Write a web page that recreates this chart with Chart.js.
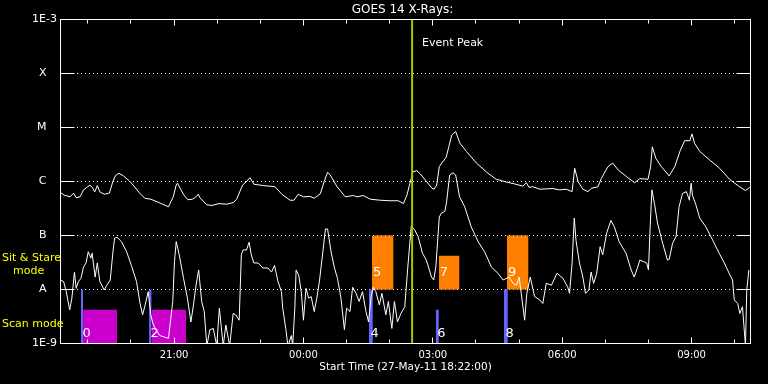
<!DOCTYPE html>
<html>
<head>
<meta charset="utf-8">
<script src="https://cdn.jsdelivr.net/npm/chart.js@4"></script>
<style>
  html, body { margin: 0; padding: 0; background: #000; }
</style>
</head>
<body>
<canvas id="goes" width="768" height="384"></canvas>
<script>
// GOES 14 X-ray flux (W/m^2). Times are hours after 00:00 on 27-May-11, so 26.5 = 02:30 next day.
const startHour = 18 + 22 / 60;
const endHour = startHour + 16;
const peakHour = 26.52;

const yTickValues = [1e-9, 1e-8, 1e-7, 1e-6, 1e-5, 1e-4, 1e-3];
const yTickLabels = ['1E-9', 'A', 'B', 'C', 'M', 'X', '1E-3'];
const xTickHours = [19, 20, 21, 22, 23, 24, 25, 26, 27, 28, 29, 30, 31, 32, 33, 34];

// long channel (1-8 A)
const longTime = [
  18.36, 18.45, 18.59, 18.67, 18.73, 18.82, 18.90, 18.97, 19.05, 19.11,
  19.16, 19.22, 19.28, 19.38, 19.50, 19.58, 19.64, 19.72, 19.82, 19.95,
  20.05, 20.21, 20.32, 20.46, 20.61, 20.87, 20.98, 21.05, 21.08, 21.14,
  21.23, 21.32, 21.43, 21.51, 21.56, 21.60, 21.76, 21.88, 22.04, 22.22,
  22.38, 22.45, 22.59, 22.69, 22.76, 22.85, 23.07, 23.34, 23.50, 23.69,
  23.78, 23.88, 24.00, 24.15, 24.25, 24.39, 24.48, 24.56, 24.62, 24.78,
  24.97, 25.16, 25.24, 25.39, 25.55, 25.78, 26.01, 26.20, 26.32, 26.40,
  26.47, 26.54, 26.63, 26.71, 26.86, 26.98, 27.03, 27.09, 27.15, 27.21,
  27.31, 27.38, 27.44, 27.53, 27.63, 27.78, 28.01, 28.28, 28.47, 28.70,
  28.90, 29.09, 29.17, 29.23, 29.32, 29.48, 29.78, 29.94, 30.09, 30.23,
  30.29, 30.37, 30.48, 30.60, 30.68, 30.83, 30.91, 31.06, 31.17, 31.30,
  31.49, 31.68, 31.80, 31.99, 32.05, 32.09, 32.17, 32.30, 32.48, 32.61,
  32.74, 32.84, 32.96, 33.01, 33.07, 33.19, 33.42, 33.65, 33.88, 34.11,
  34.25, 34.35
];
const longFlux = [
  6.3e-7, 5.6e-7, 5.2e-7, 6.1e-7, 5.0e-7, 5.2e-7, 7.0e-7, 7.7e-7, 8.6e-7, 7.6e-7,
  6.4e-7, 8.4e-7, 6.4e-7, 5.8e-7, 6.1e-7, 9.9e-7, 1.28e-6, 1.42e-6, 1.28e-6, 1.05e-6,
  8.6e-7, 6.0e-7, 4.9e-7, 4.7e-7, 4.2e-7, 3.4e-7, 5.2e-7, 8.6e-7, 9.3e-7, 7.5e-7,
  5.6e-7, 4.6e-7, 4.7e-7, 5.2e-7, 5.8e-7, 5.0e-7, 3.7e-7, 3.6e-7, 3.9e-7, 3.8e-7,
  4.1e-7, 4.7e-7, 8.6e-7, 1.02e-6, 1.18e-6, 8.9e-7, 8.4e-7, 8.0e-7, 5.8e-7, 4.5e-7,
  4.5e-7, 5.8e-7, 5.2e-7, 5.3e-7, 4.9e-7, 5.9e-7, 9.9e-7, 1.48e-6, 1.32e-6, 8.0e-7,
  5.2e-7, 5.5e-7, 5.2e-7, 5.5e-7, 4.7e-7, 4.5e-7, 4.4e-7, 4.4e-7, 3.9e-7, 5.6e-7,
  9.3e-7, 1.52e-6, 1.59e-6, 1.38e-6, 9.9e-7, 7.5e-7, 7.2e-7, 8.6e-7, 1.88e-6, 2.2e-6,
  2.8e-6, 4.7e-6, 7.3e-6, 8.4e-6, 5.1e-6, 3.6e-6, 2.2e-6, 1.42e-6, 1.1e-6, 9.8e-7,
  9.0e-7, 8.2e-7, 9.5e-7, 7.8e-7, 8.0e-7, 7.2e-7, 7.4e-7, 7.0e-7, 7.2e-7, 6.5e-7,
  1.76e-6, 9.9e-7, 7.2e-7, 6.5e-7, 7.5e-7, 8.0e-7, 1.15e-6, 1.88e-6, 2.2e-6, 1.63e-6,
  1.23e-6, 9.5e-7, 1.13e-6, 1.1e-6, 1.88e-6, 4.4e-6, 2.7e-6, 1.88e-6, 1.27e-6, 1.88e-6,
  3.8e-6, 5.7e-6, 5.7e-6, 7.6e-6, 5.1e-6, 3.6e-6, 2.5e-6, 1.76e-6, 1.1e-6, 8.0e-7,
  6.8e-7, 7.8e-7
];

// short channel (0.5-4 A)
const shortTime = [
  18.36, 18.44, 18.50, 18.58, 18.63, 18.69, 18.73, 18.78, 18.84, 18.90,
  18.96, 19.01, 19.07, 19.10, 19.17, 19.22, 19.28, 19.38, 19.44, 19.52,
  19.58, 19.62, 19.68, 19.78, 19.90, 20.01, 20.13, 20.21, 20.27, 20.33,
  20.40, 20.46, 20.50, 20.56, 20.67, 20.87, 20.97, 21.01, 21.05, 21.12,
  21.22, 21.31, 21.39, 21.45, 21.51, 21.57, 21.64, 21.70, 21.76, 21.83,
  21.91, 21.99, 22.05, 22.14, 22.20, 22.29, 22.37, 22.43, 22.51, 22.56,
  22.60, 22.68, 22.74, 22.79, 22.85, 22.95, 23.06, 23.18, 23.26, 23.33,
  23.41, 23.49, 23.52, 23.59, 23.64, 23.72, 23.75, 23.80, 23.83, 23.89,
  23.95, 24.00, 24.06, 24.12, 24.18, 24.25, 24.31, 24.37, 24.45, 24.51,
  24.56, 24.64, 24.72, 24.79, 24.87, 24.95, 25.00, 25.08, 25.14, 25.22,
  25.29, 25.37, 25.45, 25.51, 25.57, 25.62, 25.68, 25.76, 25.82, 25.91,
  25.97, 26.05, 26.11, 26.18, 26.26, 26.35, 26.42, 26.50, 26.58, 26.66,
  26.76, 26.85, 26.97, 27.02, 27.07, 27.15, 27.20, 27.28, 27.32, 27.39,
  27.47, 27.53, 27.62, 27.74, 27.89, 28.05, 28.20, 28.36, 28.51, 28.63,
  28.77, 28.86, 28.94, 29.00, 29.05, 29.13, 29.18, 29.26, 29.36, 29.48,
  29.55, 29.63, 29.75, 29.88, 30.02, 30.13, 30.17, 30.23, 30.28, 30.32,
  30.40, 30.48, 30.54, 30.62, 30.67, 30.73, 30.80, 30.88, 30.94, 31.03,
  31.13, 31.21, 31.32, 31.48, 31.60, 31.67, 31.75, 31.80, 31.88, 31.96,
  32.00, 32.04, 32.08, 32.14, 32.21, 32.33, 32.44, 32.48, 32.56, 32.64,
  32.71, 32.79, 32.88, 32.95, 32.99, 33.02, 33.10, 33.19, 33.33, 33.49,
  33.64, 33.76, 33.87, 33.95, 33.99, 34.07, 34.12, 34.18, 34.25, 34.28,
  34.33
];
const shortFlux = [
  1.5e-8, 1.4e-8, 9.1e-9, 4.2e-9, 6.9e-9, 2.1e-8, 1.05e-8, 1.4e-8, 1.6e-8, 2.6e-8,
  3.1e-8, 5.0e-8, 3.8e-8, 4.7e-8, 1.7e-8, 3.1e-8, 1.4e-8, 9.8e-9, 1.2e-8, 1.5e-8,
  4.7e-8, 8.9e-8, 9.3e-8, 7.7e-8, 5.0e-8, 2.8e-8, 1.4e-8, 5.6e-9, 3.4e-9, 5.2e-9,
  9.1e-9, 3.4e-9, 2.5e-9, 1.9e-9, 1.4e-9, 1.25e-9, 6.0e-9, 3.3e-8, 7.7e-8, 4.4e-8,
  1.6e-8, 6.9e-9, 2.5e-9, 5.2e-9, 1.2e-8, 2.3e-8, 6.0e-9, 3.9e-9, 9e-10, 1.8e-9,
  1.9e-9, 9e-10, 4.5e-9, 9e-10, 2.2e-9, 9e-10, 3.6e-9, 3.4e-9, 2.7e-9, 4.4e-8,
  5.4e-8, 5.4e-8, 7.5e-8, 4.4e-8, 3.1e-8, 3.1e-8, 2.5e-8, 2.5e-8, 2.1e-8, 2.8e-8,
  1.4e-8, 9.1e-9, 4.5e-9, 1.9e-9, 9e-10, 1.4e-9, 9e-10, 4.5e-9, 2.3e-8, 1.85e-8,
  9.1e-9, 2.7e-9, 1.05e-8, 6.9e-9, 7.4e-9, 3.9e-9, 6.9e-9, 1.4e-8, 5.0e-8, 1.32e-7,
  1.32e-7, 5.0e-8, 2.5e-8, 1.6e-8, 6.9e-9, 1.8e-9, 4.5e-9, 3.9e-9, 1.1e-8, 8.5e-9,
  6.0e-9, 9.1e-9, 3.9e-9, 2.5e-9, 7.4e-9, 1.1e-8, 9.1e-9, 5.2e-9, 8.5e-9, 3.4e-9,
  6.0e-9, 1.9e-9, 6.0e-9, 2.5e-9, 3.6e-9, 4.8e-9, 2.6e-8, 1.5e-7, 1.27e-7, 9.5e-8,
  4.7e-8, 3.5e-8, 1.7e-8, 1.5e-8, 2.6e-8, 2.2e-7, 2.6e-7, 2.8e-7, 4.2e-7, 1.32e-6,
  1.45e-6, 1.32e-6, 5.2e-7, 3.4e-7, 1.45e-7, 7.7e-8, 5.0e-8, 2.6e-8, 2.0e-8, 1.5e-8,
  1.7e-8, 1.3e-8, 1.2e-8, 1.7e-8, 8.5e-9, 2.7e-9, 8.5e-9, 1.7e-8, 7.4e-9, 6.4e-9,
  5.5e-9, 1.3e-8, 1.2e-8, 2.0e-8, 1.6e-8, 1.1e-8, 8.5e-9, 3.1e-8, 2.1e-7, 8.2e-8,
  3.1e-8, 1.7e-8, 8.5e-9, 9.8e-9, 2.1e-8, 1.3e-8, 2.0e-8, 6.2e-8, 4.4e-8, 1.1e-7,
  1.9e-7, 1.45e-7, 7.7e-8, 4.7e-8, 2.3e-8, 1.7e-8, 2.6e-8, 3.5e-8, 3.3e-8, 3.1e-8,
  2.3e-8, 1.45e-7, 7.0e-7, 3.9e-7, 1.7e-7, 7.2e-8, 3.5e-8, 3.6e-8, 7.2e-8, 9.5e-8,
  3.4e-7, 6.0e-7, 6.5e-7, 4.5e-7, 9.3e-7, 5.6e-7, 3.7e-7, 2.1e-7, 1.45e-7, 8.2e-8,
  4.7e-8, 3.1e-8, 2.0e-8, 1.5e-8, 6.4e-9, 5.5e-9, 3.6e-9, 4.8e-9, 9e-10, 9.8e-9,
  2.3e-8
];

// scan mode observations (blue markers, magenta blocks)
const scanIds = [0, 2, 4, 6, 8];
const scanStart = [18.84, 20.42, 25.52, 27.07, 28.65];
const scanEnd = [18.89, 20.48, 25.61, 27.14, 28.74];
const scanTop = [1e-8, 1e-8, 1e-8, 4.2e-9, 1e-8];
const blockStart = [18.89, 20.48];
const blockEnd = [19.68, 21.28];
const blockTop = [4.2e-9, 4.2e-9];

// sit & stare observations (orange)
const sitIds = [5, 7, 9];
const sitStart = [25.59, 27.14, 28.72];
const sitEnd = [26.09, 27.62, 29.22];
const sitTop = [1e-7, 4.2e-8, 1e-7];
const sitBottom = 1e-8;
const floorFlux = 1e-9;

const FONT = '"DejaVu Sans", sans-serif';

function rectSet(t0, t1, low, high, color) {
    return {
        data: [{ x: t0, y: high }, { x: t1, y: high }],
        fill: { value: low },
        backgroundColor: color,
        borderColor: color,
        borderWidth: 0,
        pointRadius: 0,
        order: 3
    };
}

const datasets = [];
blockStart.forEach((t, i) => datasets.push(rectSet(t, blockEnd[i], floorFlux, blockTop[i], '#cc00cc')));
scanStart.forEach((t, i) => datasets.push(rectSet(t, scanEnd[i], floorFlux, scanTop[i], '#6464ff')));
sitStart.forEach((t, i) => datasets.push(rectSet(t, sitEnd[i], sitBottom, sitTop[i], '#ff8000')));

datasets.push({
    data: longTime.map((t, i) => ({ x: t, y: longFlux[i] })),
    borderColor: '#ffffff', borderWidth: 1, pointRadius: 0, fill: false, order: 1
});
datasets.push({
    data: shortTime.map((t, i) => ({ x: t, y: shortFlux[i] })),
    borderColor: '#ffffff', borderWidth: 1, pointRadius: 0, fill: false, order: 1
});
datasets.push({
    data: [{ x: peakHour, y: 1e-9 }, { x: peakHour, y: 1e-3 }],
    borderColor: '#9acd00', borderWidth: 2, pointRadius: 0, fill: false, order: 0
});

function line(ctx, x0, y0, x1, y1) {
    ctx.beginPath();
    ctx.moveTo(x0, y0);
    ctx.lineTo(x1, y1);
    ctx.stroke();
}

const goesDecor = {
    id: 'goesDecor',
    afterDatasetsDraw(chart) {
        const { ctx, chartArea: a, scales: { x, y } } = chart;
        ctx.save();
        ctx.strokeStyle = '#fff';
        ctx.lineWidth = 1;
        ctx.strokeRect(a.left, a.top, a.right - a.left, a.bottom - a.top);

        // inward ticks
        yTickValues.forEach(v => {
            const py = Math.round(y.getPixelForValue(v) - 0.5) + 0.5;
            line(ctx, a.left, py, a.left + 14, py);
            line(ctx, a.right - 14, py, a.right, py);
        });
        xTickHours.forEach(h => {
            const px = Math.round(x.getPixelForValue(h) - 0.5) + 0.5;
            const len = h % 3 === 0 ? 6 : 4;
            line(ctx, px, a.top, px, a.top + len);
            line(ctx, px, a.bottom, px, a.bottom - len);
        });

        // observation numbers
        ctx.fillStyle = '#fff';
        ctx.font = '13px ' + FONT;
        ctx.textAlign = 'left';
        ctx.textBaseline = 'middle';
        scanIds.forEach((n, i) => {
            ctx.fillText(String(n), x.getPixelForValue(scanStart[i]) + 1.5, y.getPixelForValue(floorFlux) - 10);
        });
        sitIds.forEach((n, i) => {
            ctx.fillText(String(n), x.getPixelForValue(sitStart[i]) + 1, y.getPixelForValue(sitBottom) - 17);
        });

        // mode labels
        ctx.fillStyle = '#ffff00';
        ctx.font = '11px ' + FONT;
        const sitY = y.getPixelForValue(Math.sqrt(1e-7 * 1e-8));
        const scanY = y.getPixelForValue(Math.sqrt(1e-8 * 1e-9));
        ctx.fillText('Sit & Stare', 2, sitY - 4);
        ctx.fillText('mode', 13, sitY + 8.5);
        ctx.fillText('Scan mode', 2, scanY + 7.5);

        // title and event label
        ctx.fillStyle = '#fff';
        ctx.font = '12px ' + FONT;
        ctx.textAlign = 'center';
        ctx.fillText('GOES 14 X-Rays:', (a.left + a.right) / 2 - 3, 10);
        ctx.font = '11px ' + FONT;
        ctx.textAlign = 'left';
        ctx.fillText('Event Peak', x.getPixelForValue(peakHour) + 10, a.top + 24);
        ctx.restore();
    }
};

new Chart(document.getElementById('goes'), {
    type: 'line',
    data: { datasets },
    options: {
        responsive: false,
        animation: false,
        events: [],
        layout: { padding: { left: 0, right: 17.5, top: 19.5, bottom: 0 } },
        plugins: { legend: { display: false }, tooltip: { enabled: false } },
        scales: {
            x: {
                type: 'linear',
                min: startHour,
                max: endHour,
                grid: { display: false, drawTicks: false },
                border: { display: false },
                afterBuildTicks: s => { s.ticks = xTickHours.map(h => ({ value: h })); },
                afterFit: s => { s.height = 40.5; },
                ticks: {
                    color: '#fff',
                    font: { family: FONT, size: 10 },
                    padding: 6,
                    autoSkip: false,
                    maxRotation: 0,
                    callback: v => v % 3 === 0 ? String(v % 24).padStart(2, '0') + ':00' : ''
                },
                title: {
                    display: true,
                    text: 'Start Time (27-May-11 18:22:00)',
                    color: '#fff',
                    font: { family: FONT, size: 10.5 },
                    padding: { top: 0, bottom: 10 }
                }
            },
            y: {
                type: 'logarithmic',
                min: 1e-9,
                max: 1e-3,
                afterBuildTicks: s => { s.ticks = yTickValues.map(v => ({ value: v })); },
                afterFit: s => { s.width = 60.5; },
                grid: { color: '#fff', lineWidth: 1, drawTicks: false },
                border: { display: false, dash: [1, 3] },
                ticks: {
                    color: '#fff',
                    font: { family: FONT, size: 11 },
                    padding: 3.5,
                    callback: (v, i) => yTickLabels[i].length === 1 ? yTickLabels[i] + '   ' : yTickLabels[i]
                }
            }
        }
    },
    plugins: [goesDecor]
});
</script>
</body>
</html>
